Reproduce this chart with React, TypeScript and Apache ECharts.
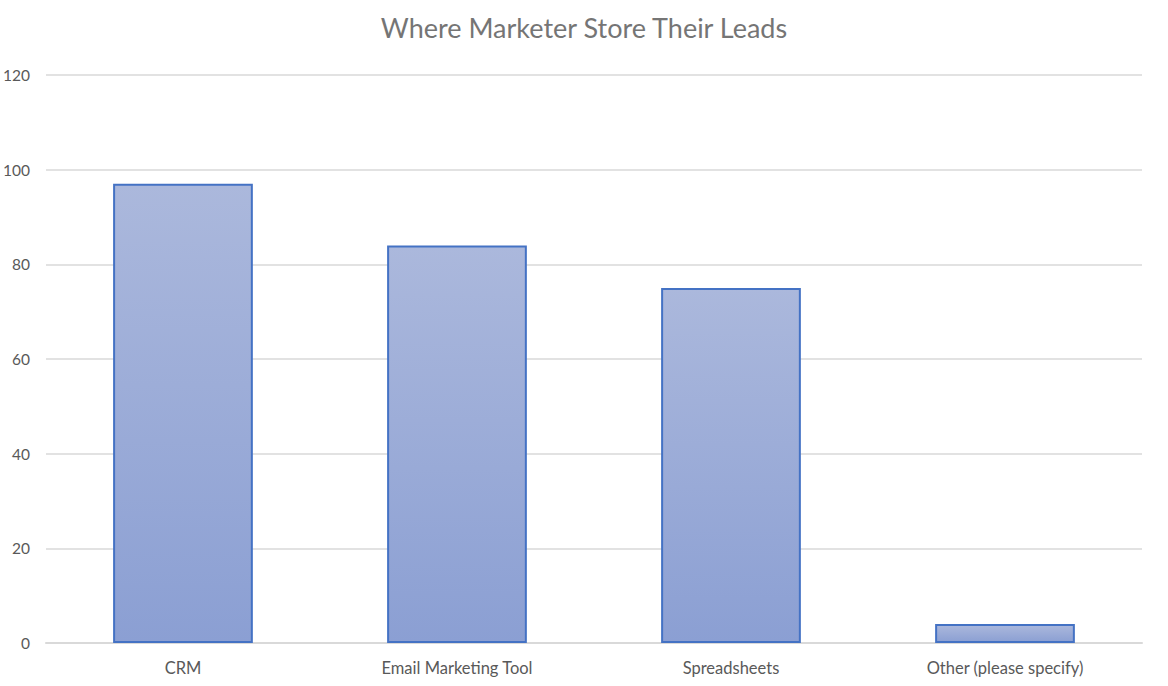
import React, { useEffect, useRef } from 'react';
import * as echarts from 'echarts';

const categories = ['CRM', 'Email Marketing Tool', 'Spreadsheets', 'Other (please specify)'];
const leads = [97, 84, 75, 4];
const yTicks = { min: 0, max: 120, interval: 20 };

const FONT = 'Lato, "Liberation Sans", sans-serif';

const App: React.FC = () => {
    const chartRef = useRef<HTMLDivElement>(null);

    useEffect(() => {
        if (!chartRef.current) return;
        const chart = echarts.init(chartRef.current, undefined, { renderer: 'svg' });
        chart.setOption({
            animation: false,
            backgroundColor: '#ffffff',
            title: {
                text: 'Where Marketer Store Their Leads',
                left: 'center',
                top: 9,
                textStyle: { color: '#757575', fontSize: 27, fontWeight: 'normal', fontFamily: FONT },
            },
            grid: { left: 45, right: 26, top: 75, bottom: 43, containLabel: false },
            xAxis: {
                type: 'category',
                data: categories,
                axisLine: { show: true, lineStyle: { color: '#d9d9d9', width: 2 } },
                axisTick: { show: false },
                axisLabel: { color: '#595959', fontSize: 16.5, fontFamily: FONT, margin: 16 },
            },
            yAxis: {
                type: 'value',
                min: yTicks.min,
                max: yTicks.max,
                interval: yTicks.interval,
                axisLine: { show: false },
                axisTick: { show: false },
                splitLine: { lineStyle: { color: '#d9d9d9', width: 1.5 } },
                axisLabel: { color: '#595959', fontSize: 15.5, fontFamily: FONT, margin: 16, align: 'right' },
            },
            series: [
                {
                    type: 'bar',
                    data: leads,
                    barWidth: '51%',
                    itemStyle: {
                        color: new echarts.graphic.LinearGradient(0, 0, 0, 1, [
                            { offset: 0, color: '#abb8dc' },
                            { offset: 1, color: '#8b9fd3' },
                        ]),
                        borderColor: '#4472c4',
                        borderWidth: 2,
                    },
                },
            ],
        });
        return () => {
            chart.dispose();
        };
    }, []);

    return (
        <div
            ref={chartRef}
            style={{ position: 'fixed', left: 0, top: 0, width: '1168px', height: '686px' }}
        />
    );
};

export default App;
